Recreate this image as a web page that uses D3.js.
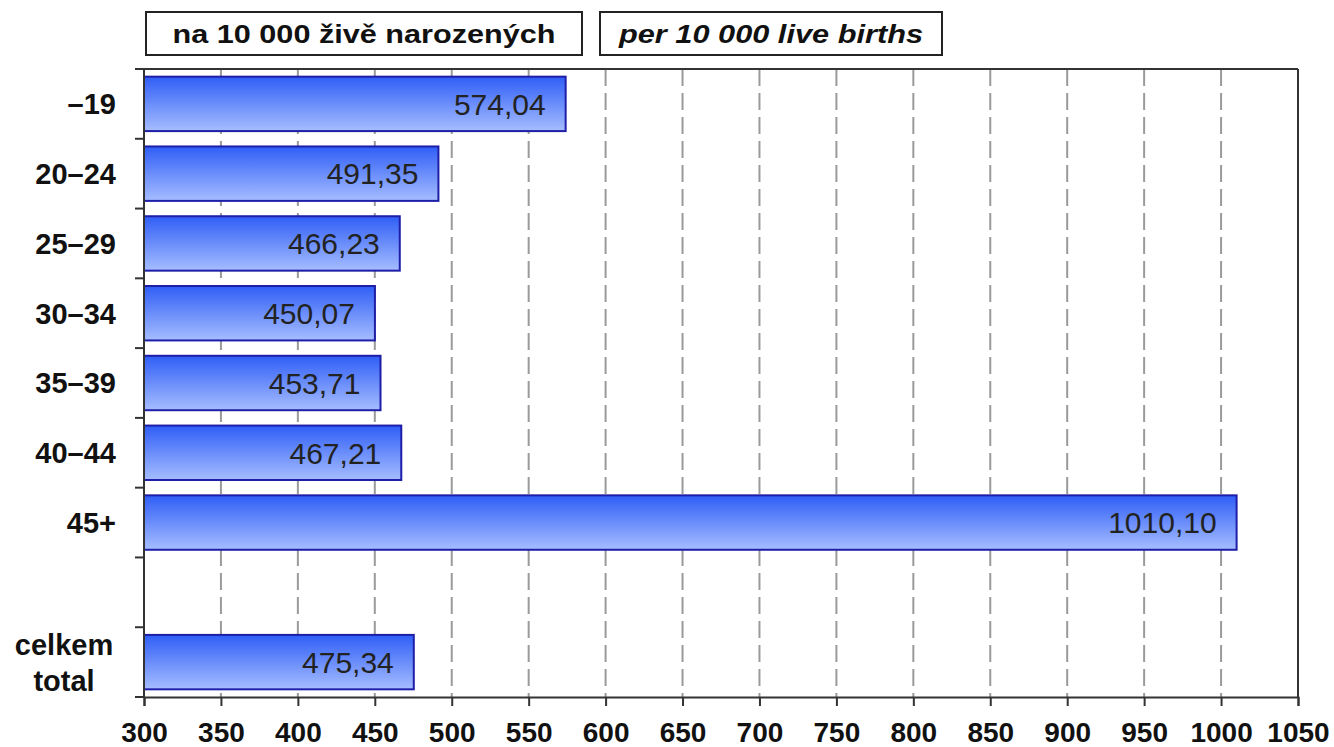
<!DOCTYPE html>
<html>
<head>
<meta charset="utf-8">
<script src="https://cdn.jsdelivr.net/npm/d3@7"></script>
<style>
  body { margin: 0; background: #fff; }
  svg { font-family: "Liberation Sans", Arial, sans-serif; }
</style>
</head>
<body>
<div id="chart"></div>
<script>
// data
const categories = ["–19", "20–24", "25–29", "30–34", "35–39", "40–44", "45+", "", "celkem|total"];
const values = [574.04, 491.35, 466.23, 450.07, 453.71, 467.21, 1010.10, null, 475.34];
const xTicks = [300, 350, 400, 450, 500, 550, 600, 650, 700, 750, 800, 850, 900, 950, 1000, 1050];
const titleCz = "na 10 000 živě narozených";
const titleEn = "per 10 000 live births";

const W = 1334, H = 747;
const margin = { top: 69, right: 36, bottom: 50, left: 144 };
const width = W - margin.left - margin.right,
      height = H - margin.top - margin.bottom;

const svg = d3.select("#chart").append("svg")
    .attr("width", W)
    .attr("height", H);

const defs = svg.append("defs");
const grad = defs.append("linearGradient")
    .attr("id", "barGrad")
    .attr("x1", 0).attr("y1", 0).attr("x2", 0).attr("y2", 1);
grad.append("stop").attr("offset", "0%").attr("stop-color", "#2f5ef6");
grad.append("stop").attr("offset", "100%").attr("stop-color", "#a6bdff");

const g = svg.append("g")
    .attr("transform", "translate(" + margin.left + "," + margin.top + ")");

const x = d3.scaleLinear()
    .domain([300, 1050])
    .range([0, width]);

const y = d3.scaleBand()
    .domain(categories.map((d, i) => i))
    .range([0, height])
    .paddingInner(0.22)
    .paddingOuter(0.11);

// grid
g.append("g")
    .selectAll("line")
    .data(xTicks.slice(1, -1))
    .enter()
    .append("line")
    .attr("x1", d => x(d))
    .attr("x2", d => x(d))
    .attr("y1", 0)
    .attr("y2", height)
    .attr("stroke", "#9a9a9a")
    .attr("stroke-width", 2)
    .attr("stroke-dasharray", "17,7");

// frame top and right
g.append("line").attr("x1", -9).attr("x2", width).attr("y1", 0).attr("y2", 0)
    .attr("stroke", "#333").attr("stroke-width", 2);
g.append("line").attr("x1", width).attr("x2", width).attr("y1", 0).attr("y2", height)
    .attr("stroke", "#333").attr("stroke-width", 2);

// bars
const rows = categories.map((c, i) => ({ i: i, cat: c, v: values[i] })).filter(d => d.v != null);

g.append("g")
    .selectAll("rect")
    .data(rows)
    .enter()
    .append("rect")
    .attr("x", x(300))
    .attr("y", d => y(d.i))
    .attr("width", d => x(d.v) - x(300))
    .attr("height", y.bandwidth())
    .attr("fill", "url(#barGrad)")
    .attr("stroke", "#1e1ea8")
    .attr("stroke-width", 2);

g.append("g")
    .selectAll("text")
    .data(rows)
    .enter()
    .append("text")
    .attr("x", d => x(d.v) - 20)
    .attr("y", d => y(d.i) + y.bandwidth() / 2)
    .attr("dy", "0.36em")
    .attr("text-anchor", "end")
    .attr("font-size", 30)
    .attr("fill", "#222")
    .text(d => d3.format(".2f")(d.v).replace(".", ","));

// x axis
const xAxis = g.append("g")
    .attr("transform", "translate(0," + height + ")")
    .call(d3.axisBottom(x).tickValues(xTicks).tickSize(9).tickPadding(16).tickFormat(d3.format("d")));
xAxis.select(".domain").attr("stroke", "#333").attr("stroke-width", 2);
xAxis.selectAll(".tick line").attr("stroke", "#333").attr("stroke-width", 2);
xAxis.selectAll("text")
    .attr("font-size", 28)
    .attr("font-weight", "bold")
    .attr("fill", "#111")
    .attr("font-family", "Liberation Sans, Arial, sans-serif");

// y axis: ticks at band boundaries
const yAxisG = g.append("g");
yAxisG.append("line").attr("x1", 0).attr("x2", 0).attr("y1", 0).attr("y2", height)
    .attr("stroke", "#333").attr("stroke-width", 2);
yAxisG.selectAll(".yt")
    .data(d3.range(categories.length + 1))
    .enter()
    .append("line")
    .attr("class", "yt")
    .attr("x1", -9).attr("x2", 0)
    .attr("y1", d => d * height / categories.length)
    .attr("y2", d => d * height / categories.length)
    .attr("stroke", "#333").attr("stroke-width", 2);

// category labels
categories.forEach((c, i) => {
    if (!c) return;
    const parts = c.split("|");
    const cy = y(i) + y.bandwidth() / 2;
    const t = yAxisG.append("text")
        .attr("font-size", 29)
        .attr("font-weight", "bold")
        .attr("fill", "#111");
    if (parts.length === 1) {
        t.attr("x", -28).attr("y", cy).attr("dy", "0.36em")
            .attr("text-anchor", "end").text(c);
    } else {
        t.attr("text-anchor", "middle");
        parts.forEach((p, k) => {
            t.append("tspan")
                .attr("x", -80)
                .attr("y", cy + (k - (parts.length - 1) / 2) * 36)
                .attr("dy", "0.36em")
                .text(p);
        });
    }
});

// title boxes
const boxes = [
    { text: titleCz, x: 146, w: 436, tw: 383, italic: false },
    { text: titleEn, x: 600, w: 342, tw: 304, italic: true }
];
const tb = svg.append("g");
boxes.forEach(b => {
    tb.append("rect")
        .attr("x", b.x).attr("y", 12)
        .attr("width", b.w).attr("height", 43)
        .attr("fill", "#fff")
        .attr("stroke", "#222").attr("stroke-width", 2);
    tb.append("text")
        .attr("x", b.x + b.w / 2).attr("y", 34)
        .attr("dy", "0.36em")
        .attr("text-anchor", "middle")
        .attr("font-size", 26)
        .attr("font-weight", "bold")
        .attr("font-style", b.italic ? "italic" : "normal")
        .attr("textLength", b.tw)
        .attr("lengthAdjust", "spacingAndGlyphs")
        .attr("fill", "#111")
        .text(b.text);
});
</script>
</body>
</html>
